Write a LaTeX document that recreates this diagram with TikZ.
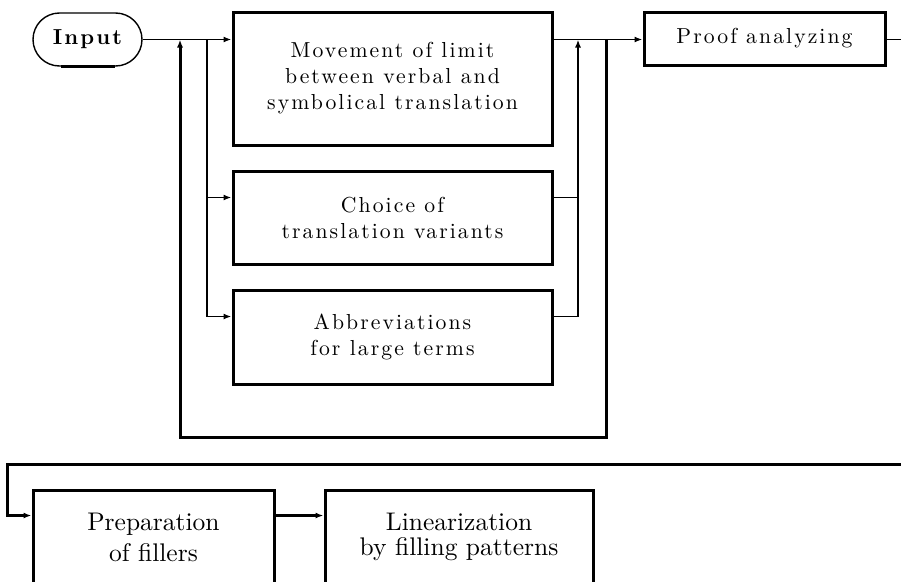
\documentclass[tikz,border=0pt]{standalone}
\usepackage{fontspec}
\usetikzlibrary{arrows.meta,calc}

% Latin Modern at its 10pt design size, scaled up, with tracking
\newfontfamily\spacedrm{lmroman10-regular}[Extension=.otf, BoldFont=lmroman10-bold, LetterSpace=9.5]
\newfontfamily\plainrm{lmroman10-regular}[Extension=.otf, BoldFont=lmroman10-bold]

\tikzset{
  main/.style={font=\spacedrm\fontsize{21.7}{26}\selectfont},
  mainbold/.style={font=\spacedrm\fontsize{21.7}{26}\selectfont\bfseries},
  lower/.style={font=\plainrm\fontsize{25.5}{#1}\selectfont},
  stage/.style={draw, line width=3pt, rectangle, align=center, inner sep=0pt},
  thinline/.style={line width=1.7pt},
  thickline/.style={line width=3pt},
  tip/.style={-{Latex[length=8pt,width=6pt]}},
}

\begin{document}
\begin{tikzpicture}[x=1pt,y=-1pt]
  \clip (0,0) rectangle (901,581);

  % start terminal
  \node[draw, line width=1.4pt, rounded corners=26.5pt, minimum width=109pt,
        minimum height=53pt, inner sep=0pt, mainbold] (inp) at (87.5,39.5) {Input};
  \draw[line width=3pt] ([xshift=-27pt]inp.south) -- ([xshift=27pt]inp.south);

  % upper stages
  \node[stage, main, minimum width=319pt, minimum height=133pt] (mov) at (392.5,78.5)
    {Movement of limit\\between verbal and\\symbolical translation};
  \node[stage, main, minimum width=319pt, minimum height=93pt] (cho) at (392.5,217.5)
    {Choice of\\translation variants};
  \node[stage, main, minimum width=319pt, minimum height=94pt] (abb) at (392.5,337)
    {Abbreviations\\for large terms};
  \node[stage, main, minimum width=241pt, minimum height=53pt] (pro) at (764.5,38.5)
    {Proof analyzing};

  % lower stages
  \node[stage, lower=31, minimum width=241pt, minimum height=94pt] (pre) at (153.5,537)
    {Preparation\\of fillers};
  \node[stage, lower=24.5, minimum width=268pt, minimum height=94pt] (lin) at (459,537)
    {Linearization\\by filling patterns};

  % connection points
  \coordinate (movin) at (mov.west |- inp.east);
  \coordinate (movout) at (mov.east |- inp.east);
  \coordinate (proin) at (pro.west |- inp.east);
  \coordinate (fbL) at (180,39.5);
  \coordinate (brL) at (207,39.5);
  \coordinate (colR) at (578,39.5);
  \coordinate (fbR) at (606,39.5);
  \coordinate (fbLow) at (606,437);
  \coordinate (choin) at ($(cho.north west)+(0,28)$);
  \coordinate (abbin) at ($(abb.north west)+(0,28)$);
  \coordinate (choout) at (cho.east |- choin);
  \coordinate (abbout) at (abb.east |- abbin);
  \coordinate (rightedge) at (905,39.5);
  \coordinate (wrapR) at (905,464);
  \coordinate (wrapL) at (7,464);
  \coordinate (prein) at ($(pre.north west)+(0,27)$);
  \coordinate (preout) at (pre.east |- prein);
  \coordinate (linin) at (lin.west |- prein);

  % main flow
  \draw[thinline, tip] (inp.east) -- (movin);
  \draw[thinline, tip] (movout) -- (proin);
  \draw[thinline] (pro.east |- proin) -- (rightedge);

  % branches to the alternatives
  \draw[thinline, tip] (brL) |- (abbin);
  \draw[thinline, tip] (brL |- choin) -- (choin);
  \draw[thinline, tip] (abbout) -| (colR);
  \draw[thinline] (choout) -- (colR |- choout);

  % repetition loop
  \draw[thickline, tip] (fbR) -- (fbLow) -| (fbL);

  % continuation to the lower row
  \draw[thickline, tip] (wrapR) -- (wrapL) |- (prein);
  \draw[thickline, tip] (preout) -- (linin);
\end{tikzpicture}
\end{document}
